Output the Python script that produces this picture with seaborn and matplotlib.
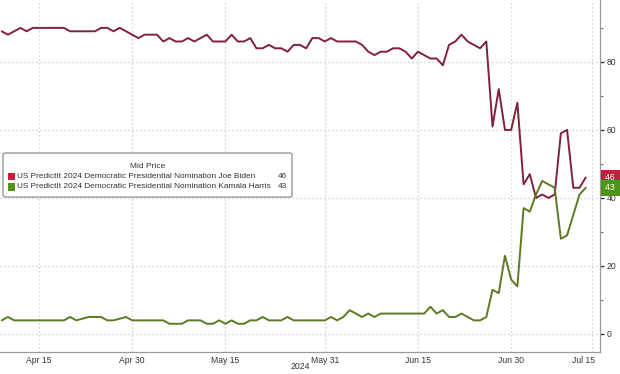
import numpy as np
import pandas as pd
import matplotlib
matplotlib.use("Agg")
import matplotlib.pyplot as plt
import matplotlib.patches as mpatches
import seaborn as sns

# ---------------- data ----------------
dates = pd.date_range("2024-04-09", "2024-07-12", freq="D")
series_names = [
    "US PredictIt 2024 Democratic Presidential Nomination Joe Biden",
    "US PredictIt 2024 Democratic Presidential Nomination Kamala Harris",
]
biden = [
    89, 88, 89, 90, 89, 90, 90, 90, 90, 90,
    90, 89, 89, 89, 89, 89, 90, 90, 89, 90,
    89, 88, 87, 88, 88, 88, 86, 87, 86, 86,
    87, 86, 87, 88, 86, 86, 86, 88, 86, 86,
    87, 84, 84, 85, 84, 84, 83, 85, 85, 84,
    87, 87, 86, 87, 86, 86, 86, 86, 85, 83,
    82, 83, 83, 84, 84, 83, 81, 83, 82, 81,
    81, 79, 85, 86, 88, 86, 85, 84, 86, 61,
    72, 60, 60, 68, 44, 47, 40, 41, 40, 41,
    59, 60, 43, 43, 46,
]
harris = [
    4, 5, 4, 4, 4, 4, 4, 4, 4, 4,
    4, 5, 4, 4.5, 5, 5, 5, 4, 4, 4.5,
    5, 4, 4, 4, 4, 4, 4, 3, 3, 3,
    4, 4, 4, 3, 3, 4, 3, 4, 3, 3,
    4, 4, 5, 4, 4, 4, 5, 4, 4, 4,
    4, 4, 4, 5, 4, 5, 7, 6, 5, 6,
    5, 6, 6, 6, 6, 6, 6, 6, 6, 8,
    6, 7, 5, 5, 6, 5, 4, 4, 5, 13,
    12, 23, 16, 14, 37, 36, 41, 45, 44, 43,
    28, 29, 35, 41, 43,
]
tick_labels = ["Apr 15", "Apr 30", "May 15", "May 31", "Jun 15", "Jun 30", "Jul 15"]
tick_dates = ["2024-04-15", "2024-04-30", "2024-05-15", "2024-05-31",
              "2024-06-15", "2024-06-30", "2024-07-15"]
y_ticks = [0, 20, 40, 60, 80]
legend_title = "Mid Price"
year_label = "2024"

line_colors = ["#82203c", "#5d7a22"]
box_colors = ["#c51f3f", "#4f9416"]

# ---------------- build frame ----------------
ref = pd.Timestamp("2024-04-15")
day = np.array([(d - ref).days for d in dates], dtype=float)
df = pd.DataFrame({
    "day": np.concatenate([day, day]),
    "price": np.concatenate([biden, harris]),
    "series": [series_names[0]] * len(day) + [series_names[1]] * len(day),
})

sns.set_style("white")
plt.rcParams["font.family"] = ["Liberation Sans", "DejaVu Sans"]

W, H = 620, 374
fig = plt.figure(figsize=(W / 100, H / 100), dpi=100)
ax = fig.add_axes([0, 22 / H, 600 / W, 352 / H])


def fx(px):
    return px / W


def fy(py):
    return 1 - py / H


sns.lineplot(data=df, x="day", y="price", hue="series", palette=line_colors,
             hue_order=series_names, linewidth=1.4, ax=ax, legend=False)

ax.set_xlim(-6.28, 90.3)
ax.set_ylim(-5.3, 98.2)

# x ticks
tick_pos = [(pd.Timestamp(t) - ref).days for t in tick_dates]
label_pos = tick_pos[:-1] + [87.7]
ax.set_xticks(label_pos)
ax.set_xticklabels(tick_labels)
minor_pos = [(a + b) / 2 for a, b in zip(tick_pos[:-2], tick_pos[1:-1])] + [83.5]
ax.set_xticks(minor_pos, minor=True)
ax.tick_params(axis="x", which="major", length=0, pad=3, labelsize=6.2, colors="#333333")
ax.tick_params(axis="x", which="minor", length=2.5, width=0.8, color="#555555", direction="out")

# y ticks on right
ax.yaxis.tick_right()
ax.set_yticks(y_ticks)
ax.set_yticks([10, 30, 50, 70, 90], minor=True)
ax.tick_params(axis="y", which="major", length=3, width=1, color="#333333",
               labelsize=6.2, pad=2, colors="#333333")
ax.tick_params(axis="y", which="minor", length=2, width=0.8, color="#777777")
ax.set_xlabel("")
ax.set_ylabel("")

# grid
for y in y_ticks:
    ax.axhline(y, color="#c4c4c4", lw=0.9, ls=(0, (1, 2.2)), zorder=0)
for x in tick_pos[:-1] + [89.0]:
    ax.axvline(x, color="#c4c4c4", lw=0.9, ls=(0, (1, 2.2)), zorder=0)

for s in ["left", "top"]:
    ax.spines[s].set_visible(False)
for s in ["right", "bottom"]:
    ax.spines[s].set_color("#9a9a9a")
    ax.spines[s].set_linewidth(0.9)

# last value boxes on right
for vals, col in zip([biden, harris], box_colors):
    ax.annotate(f"{vals[-1]:.0f}  ", xy=(1.0, vals[-1]), xycoords=("axes fraction", "data"),
                xytext=(3.5, 0), textcoords="offset points", ha="left", va="center",
                fontsize=6.2, color="white", annotation_clip=False,
                bbox=dict(boxstyle="square,pad=0.4", fc=col, ec="none"))

# legend box (drawn manually)
leg = mpatches.FancyBboxPatch((fx(3), fy(197)), fx(292) - fx(3), fy(153) - fy(197),
                              boxstyle="round,pad=0,rounding_size=0.004",
                              transform=fig.transFigure, fc="white", ec="#8c8c8c",
                              lw=0.9, zorder=5)
fig.patches.append(leg)
fig.text(fx(148), fy(166), legend_title, ha="center", va="center", fontsize=6.0,
         color="#333333", zorder=6)
for i, (name, vals, col) in enumerate(zip(series_names, [biden, harris], box_colors)):
    yc = 176.5 + i * 10.5
    sq = mpatches.Rectangle((fx(7.5), fy(yc + 3.8)), fx(7.5), fy(yc - 3.8) - fy(yc + 3.8),
                            transform=fig.transFigure, fc=col, ec="none", zorder=6)
    fig.patches.append(sq)
    fig.text(fx(17), fy(yc), name, ha="left", va="center", fontsize=5.95,
             color="#333333", zorder=6)
    fig.text(fx(287), fy(yc), f"{vals[-1]:.0f}", ha="right", va="center", fontsize=5.95,
             color="#333333", zorder=6)

fig.text(fx(300), fy(366.5), year_label, ha="center", va="center", fontsize=6.2,
         color="#333333")

fig.savefig("out.png", dpi=100)
